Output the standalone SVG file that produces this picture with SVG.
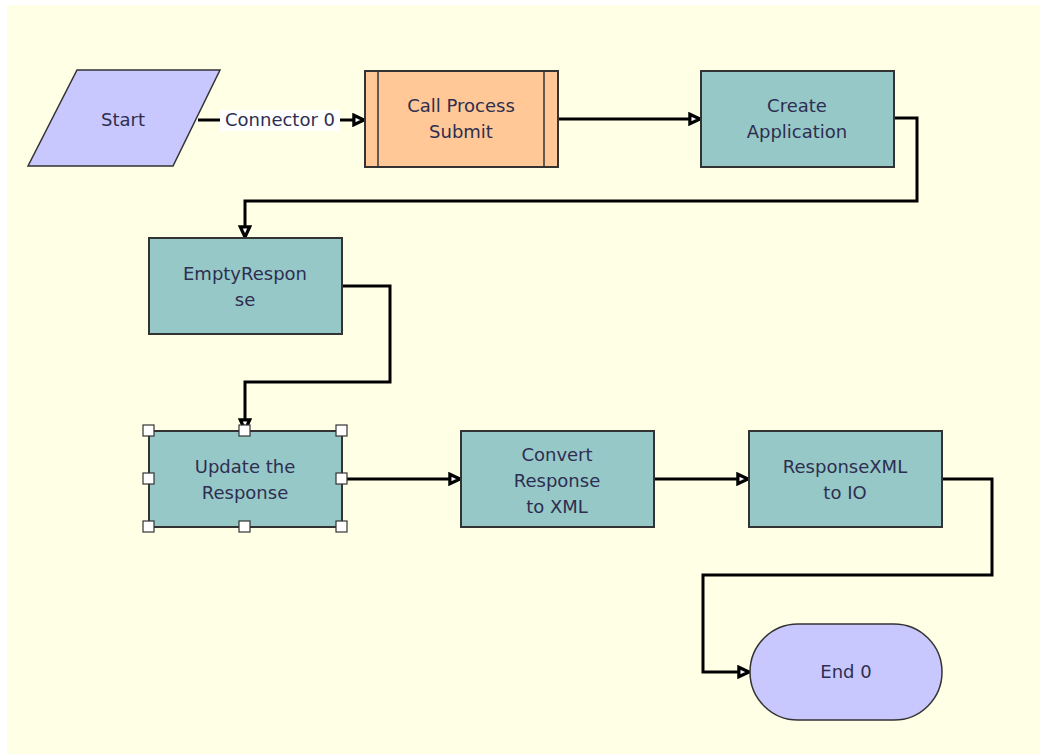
<svg xmlns="http://www.w3.org/2000/svg" width="1040" height="754" viewBox="0 0 1040 754">
<style>
.bg{fill:#FFFFE6}
.task{fill:#96C8C8;stroke:#333;stroke-width:2}
.sub{fill:#FFC896;stroke:#333;stroke-width:2}
.term{fill:#C8C8FF;stroke:#333;stroke-width:1.5}
.lbl{font-family:"DejaVu Sans","Liberation Sans",sans-serif;font-size:18px;fill:#2E2E50;text-anchor:middle}
.conn{fill:none;stroke:#000;stroke-width:3}
.h{fill:#fff;stroke:#333;stroke-width:1.2}
</style>
<defs>
<marker id="arr" viewBox="0 0 10 10" refX="9" refY="5" markerWidth="4.5" markerHeight="4.5" orient="auto" markerUnits="strokeWidth">
<path d="M1.5,1.5 L9,5 L1.5,8.5 Z" fill="#fff" stroke="#000" stroke-width="2.4"/>
</marker>
</defs>
<rect x="0" y="0" width="1040" height="754" fill="#fff"/>
<rect class="bg" x="7" y="5" width="1033" height="749"/>

<g id="connectors">
<line class="conn" x1="198" y1="120" x2="364" y2="120" marker-end="url(#arr)"/>
<rect x="220" y="110" width="120" height="21" fill="#fff"/>
<text class="lbl" x="280" y="126">Connector 0</text>
<line class="conn" x1="558" y1="119" x2="700" y2="119" marker-end="url(#arr)"/>
<polyline class="conn" points="894,118 917,118 917,201 245,201 245,237" marker-end="url(#arr)"/>
<polyline class="conn" points="342,286 390,286 390,382 245,382 245,430" marker-end="url(#arr)"/>
<line class="conn" x1="342" y1="479" x2="460" y2="479" marker-end="url(#arr)"/>
<line class="conn" x1="654" y1="479" x2="748" y2="479" marker-end="url(#arr)"/>
<polyline class="conn" points="942,479 992,479 992,575 703,575 703,672 749,672" marker-end="url(#arr)"/>
</g>

<g id="start">
<polygon class="term" points="77,70 220,70 173,166 28,166"/>
<text class="lbl" x="123" y="126">Start</text>
</g>

<g id="callProcessSubmit">
<rect class="sub" x="365" y="71" width="193" height="96"/>
<line x1="378" y1="71" x2="378" y2="167" stroke="#333" stroke-width="1.5"/>
<line x1="544" y1="71" x2="544" y2="167" stroke="#333" stroke-width="1.5"/>
<text class="lbl" x="461" y="112">Call Process</text>
<text class="lbl" x="461" y="138">Submit</text>
</g>

<g id="createApplication">
<rect class="task" x="701" y="71" width="193" height="96"/>
<text class="lbl" x="797" y="112">Create</text>
<text class="lbl" x="797" y="138">Application</text>
</g>

<g id="emptyResponse">
<rect class="task" x="149" y="238" width="193" height="96"/>
<text class="lbl" x="245" y="280">EmptyRespon</text>
<text class="lbl" x="245" y="306">se</text>
</g>

<g id="updateResponse">
<rect class="task" x="149" y="431" width="193" height="96"/>
<text class="lbl" x="245" y="473">Update the</text>
<text class="lbl" x="245" y="499">Response</text>
<rect class="h" x="143" y="425" width="11" height="11"/>
<rect class="h" x="239" y="425" width="11" height="11"/>
<rect class="h" x="336" y="425" width="11" height="11"/>
<rect class="h" x="143" y="473" width="11" height="11"/>
<rect class="h" x="336" y="473" width="11" height="11"/>
<rect class="h" x="143" y="521" width="11" height="11"/>
<rect class="h" x="239" y="521" width="11" height="11"/>
<rect class="h" x="336" y="521" width="11" height="11"/>
</g>

<g id="convertResponse">
<rect class="task" x="461" y="431" width="193" height="96"/>
<text class="lbl" x="557" y="461">Convert</text>
<text class="lbl" x="557" y="487">Response</text>
<text class="lbl" x="557" y="513">to XML</text>
</g>

<g id="responseXmlToIO">
<rect class="task" x="749" y="431" width="193" height="96"/>
<text class="lbl" x="845" y="473">ResponseXML</text>
<text class="lbl" x="845" y="499">to IO</text>
</g>

<g id="end0">
<rect class="term" x="750" y="624" width="192" height="96" rx="48" ry="48"/>
<text class="lbl" x="846" y="678">End 0</text>
</g>
</svg>
